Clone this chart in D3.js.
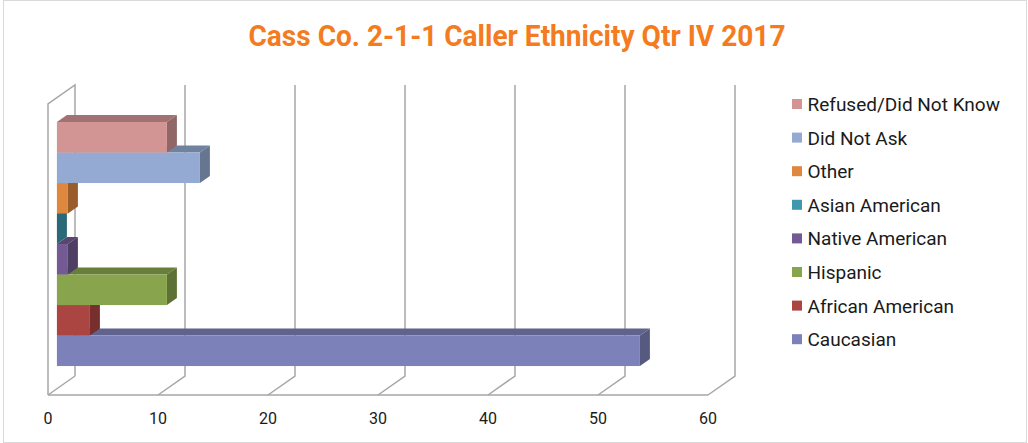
<!DOCTYPE html>
<html>
<head>
<meta charset="utf-8">
<script src="https://cdn.jsdelivr.net/npm/d3@7"></script>
<style>
  body { margin: 0; background: #fff; }
  text { font-family: Roboto, "Noto Sans", sans-serif; }
</style>
</head>
<body>
<div id="chart"></div>
<script>
// series, bottom to top as drawn
var categories = ["Caucasian", "African American", "Hispanic", "Native American",
                  "Asian American", "Other", "Did Not Ask", "Refused/Did Not Know"];
var values = [53, 3, 10, 1, 0, 1, 13, 10];
var colors = ["#7d81ba", "#ab4542", "#88a54d", "#735a92", "#4098ae", "#de873f", "#94aad2", "#d39594"];
var ticks = [0, 10, 20, 30, 40, 50, 60];

var W = 1028, H = 443;
var svg = d3.select("#chart").append("svg")
    .attr("width", W).attr("height", H);

// chart border
svg.append("rect")
    .attr("x", 3.5).attr("y", 0.5).attr("width", W - 5).attr("height", H - 1)
    .attr("fill", "none").attr("stroke", "#d9d9d9");

// front plane scales; depth offset for the back wall
var x = d3.scaleLinear().domain([0, 60]).range([48, 708]);
var floorY = 395, topY = 104;
var DX = 27, DY = -19;            // full depth offset
var zf = 0.33, zb = 0.70;         // bar front / back depth
function px(v, z) { return x(v) + DX * z; }
function py(yy, z) { return yy + DY * z; }

var y = d3.scaleBand().domain(categories).range([372.3, 128.3]).padding(0);

var grid = svg.append("g").attr("stroke", "#a6a6a6").attr("stroke-width", 1.5).attr("fill", "none");

// left wall
grid.append("path").attr("d",
  "M" + px(0, 0) + "," + py(floorY, 0) + "L" + px(0, 0) + "," + py(topY, 0) +
  "L" + px(0, 1) + "," + py(topY, 1) + "L" + px(0, 1) + "," + py(floorY, 1));
// floor front edge
grid.append("line")
    .attr("x1", px(0, 0)).attr("y1", floorY).attr("x2", px(60, 0)).attr("y2", floorY);
// gridlines: back wall + floor diagonal
ticks.forEach(function(t) {
  if (t === 0) return;
  grid.append("path").attr("d",
    "M" + px(t, 1) + "," + py(topY, 1) + "L" + px(t, 1) + "," + py(floorY, 1) +
    "L" + px(t, 0) + "," + py(floorY, 0));
});
grid.append("line")
    .attr("x1", px(0, 0)).attr("y1", floorY).attr("x2", px(0, 1)).attr("y2", py(floorY, 1));

// bars, bottom first so upper bars cover lower top faces
var bars = svg.append("g");
categories.forEach(function(c, i) {
  var v = values[i];
  var col = d3.color(colors[i]);
  var y0 = y(c) + y.bandwidth(), y1 = y(c);
  var g = bars.append("g");
  // top face
  g.append("path")
    .attr("d", "M" + px(0, zf) + "," + py(y1, zf) + "L" + px(v, zf) + "," + py(y1, zf) +
               "L" + px(v, zb) + "," + py(y1, zb) + "L" + px(0, zb) + "," + py(y1, zb) + "Z")
    .attr("fill", col.darker(0.75));
  // right side face
  g.append("path")
    .attr("d", "M" + px(v, zf) + "," + py(y0, zf) + "L" + px(v, zf) + "," + py(y1, zf) +
               "L" + px(v, zb) + "," + py(y1, zb) + "L" + px(v, zb) + "," + py(y0, zb) + "Z")
    .attr("fill", col.darker(1.05));
  // front face
  g.append("rect")
    .attr("x", px(0, zf)).attr("y", py(y1, zf))
    .attr("width", x(v) - x(0)).attr("height", y.bandwidth())
    .attr("fill", col);
});

// x tick labels
svg.append("g").selectAll("text").data(ticks).enter().append("text")
    .attr("x", function(d) { return x(d); })
    .attr("y", 423.5)
    .attr("text-anchor", "middle")
    .attr("font-size", 16)
    .attr("fill", "#1a1a1a")
    .text(function(d) { return d; });

// title
svg.append("text")
    .attr("x", 517).attr("y", 46)
    .attr("text-anchor", "middle")
    .attr("font-size", 29).attr("font-weight", "bold")
    .attr("fill", "#f47b20")
    .attr("textLength", 537).attr("lengthAdjust", "spacingAndGlyphs")
    .text("Cass Co. 2-1-1 Caller Ethnicity Qtr IV 2017");

// legend, top to bottom
var legendOrder = categories.slice().reverse();
var leg = svg.append("g").selectAll("g").data(legendOrder).enter().append("g")
    .attr("transform", function(d, i) { return "translate(792," + (104 + i * 33.6) + ")"; });
leg.append("rect")
    .attr("x", 0).attr("y", -5).attr("width", 10).attr("height", 10)
    .attr("fill", function(d) { return colors[categories.indexOf(d)]; });
leg.append("text")
    .attr("x", 15.5).attr("y", 7)
    .attr("font-size", 19)
    .attr("fill", "#1a1a1a")
    .text(function(d) { return d; });
</script>
</body>
</html>
